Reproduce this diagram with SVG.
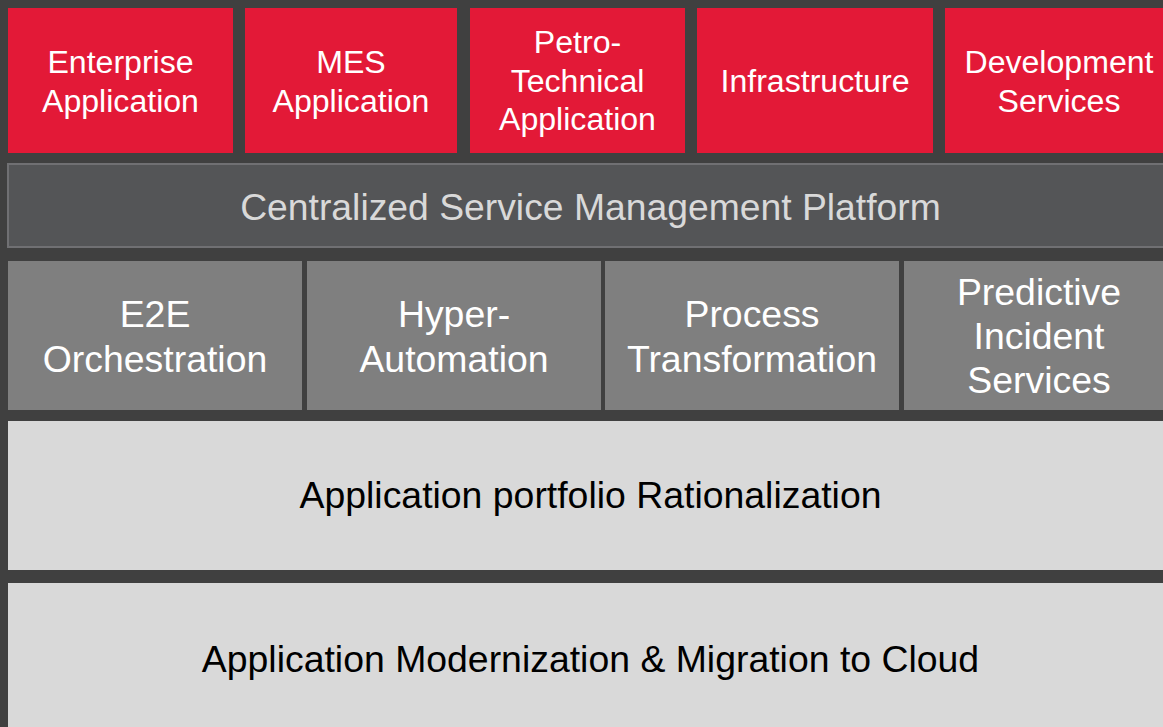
<svg xmlns="http://www.w3.org/2000/svg" width="1163" height="727" viewBox="0 0 1163 727">
<style>
text{font-family:"Liberation Sans",Arial,sans-serif;text-anchor:middle}
.red{fill:#e31937}
.rt{fill:#ffffff;font-size:32.1px}
.plat{fill:#545557;stroke:#707073;stroke-width:2}
.pt{fill:#d9d9d9;font-size:37.3px}
.gray{fill:#7f7f7f}
.gt{fill:#ffffff;font-size:37.4px}
.light{fill:#d9d9d9}
.lt{fill:#000000;font-size:37.4px}
</style>
<rect x="0" y="0" width="1163" height="727" fill="#404040"/>
<g id="enterprise-application">
<rect class="red" x="8" y="8" width="225" height="145"/>
<text class="rt" x="120.5" y="72.7">Enterprise</text>
<text class="rt" x="120.5" y="111.7">Application</text>
</g>
<g id="mes-application">
<rect class="red" x="245" y="8" width="212" height="145"/>
<text class="rt" x="351" y="72.7">MES</text>
<text class="rt" x="351" y="111.7">Application</text>
</g>
<g id="petro-technical-application">
<rect class="red" x="470" y="8" width="215" height="145"/>
<text class="rt" x="577.5" y="53.3">Petro-</text>
<text class="rt" x="577.5" y="91.7">Technical</text>
<text class="rt" x="577.5" y="130">Application</text>
</g>
<g id="infrastructure">
<rect class="red" x="697" y="8" width="236" height="145"/>
<text class="rt" x="815" y="91.7">Infrastructure</text>
</g>
<g id="development-services">
<rect class="red" x="945" y="8" width="228" height="145"/>
<text class="rt" x="1059" y="72.7">Development</text>
<text class="rt" x="1059" y="111.7">Services</text>
</g>
<g id="centralized-platform">
<rect class="plat" x="8" y="164" width="1166" height="83"/>
<text class="pt" x="590.5" y="220">Centralized Service Management Platform</text>
</g>
<g id="e2e-orchestration">
<rect class="gray" x="8" y="261" width="294" height="149"/>
<text class="gt" x="155" y="327.3">E2E</text>
<text class="gt" x="155" y="371.7">Orchestration</text>
</g>
<g id="hyper-automation">
<rect class="gray" x="307" y="261" width="294" height="149"/>
<text class="gt" x="454" y="327.3">Hyper-</text>
<text class="gt" x="454" y="371.7">Automation</text>
</g>
<g id="process-transformation">
<rect class="gray" x="605" y="261" width="294" height="149"/>
<text class="gt" x="752" y="327.3">Process</text>
<text class="gt" x="752" y="371.7">Transformation</text>
</g>
<g id="predictive-incident-services">
<rect class="gray" x="904" y="261" width="270" height="149"/>
<text class="gt" x="1039" y="304.5">Predictive</text>
<text class="gt" x="1039" y="349">Incident</text>
<text class="gt" x="1039" y="393.3">Services</text>
</g>
<g id="application-portfolio-rationalization">
<rect class="light" x="8" y="421" width="1166" height="149"/>
<text class="lt" x="590.5" y="508">Application portfolio Rationalization</text>
</g>
<g id="application-modernization">
<rect class="light" x="8" y="583" width="1166" height="150"/>
<text class="lt" x="590.5" y="671.7">Application Modernization &amp; Migration to Cloud</text>
</g>
<g id="connectors"/>
</svg>
